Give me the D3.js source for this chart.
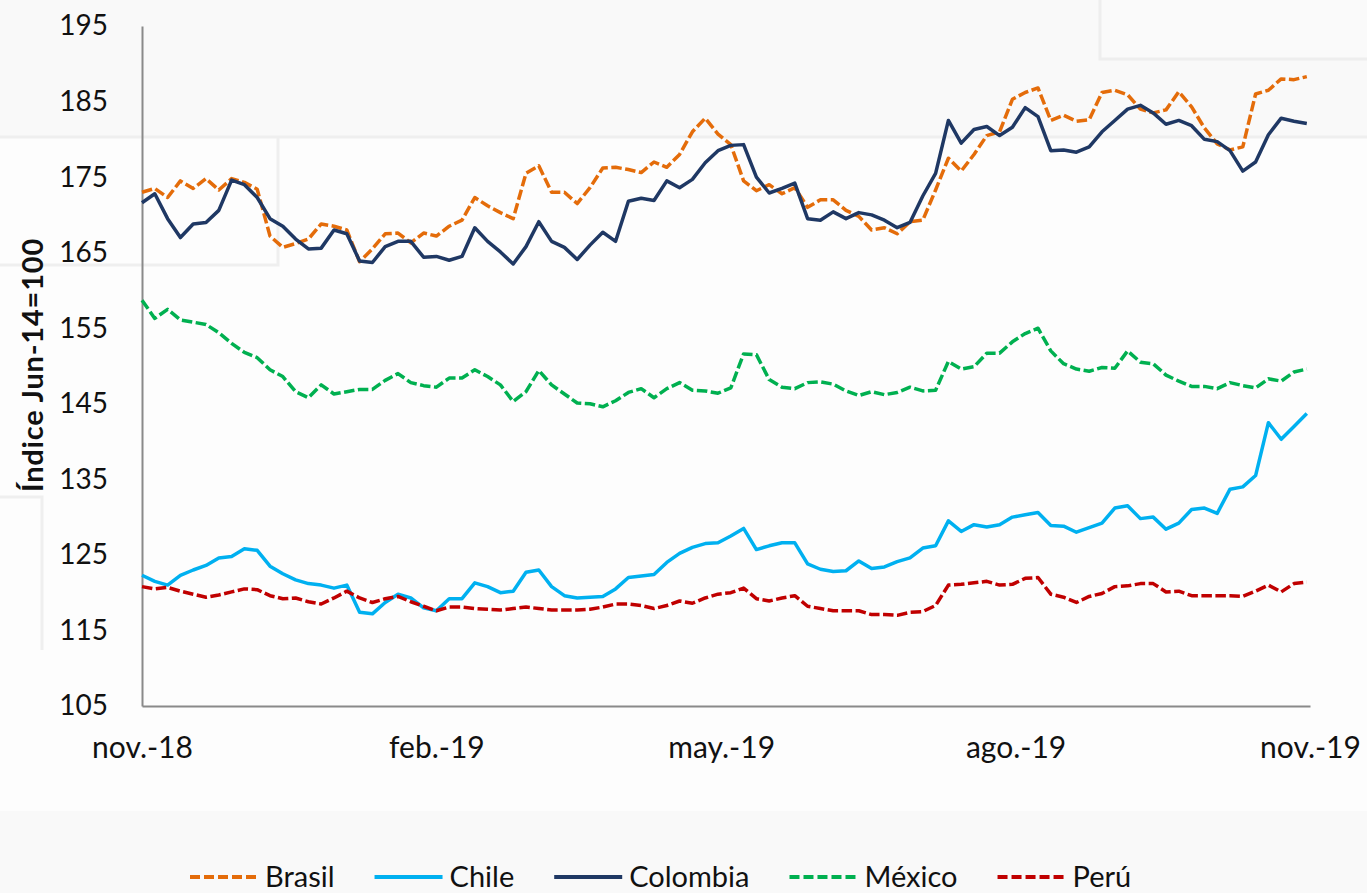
<!DOCTYPE html>
<html>
<head>
<meta charset="utf-8">
<script src="https://cdnjs.cloudflare.com/ajax/libs/d3/7.8.5/d3.min.js"></script>
<style>
  body { margin: 0; background: #fdfdfd; }
  text { font-family: Lato, "Open Sans", sans-serif; fill: #111; }
</style>
</head>
<body>
<script>
const w = 1367;
const h = 893;

// x categories: one reading every 4 days from nov.-18
const start = new Date(2018, 10, 1);
const end = new Date(2019, 10, 1);
const stepDays = 4;

const brasil = [173, 173.5, 172.3, 174.5, 173.5, 174.8, 173.3, 174.8, 174.3, 173.4,
  167.2, 165.7, 166.2, 166.8, 168.8, 168.5, 168, 163.8, 165.5, 167.5,
  167.6, 166.3, 167.6, 167.2, 168.5, 169.3, 172.3, 171.2, 170.3, 169.5,
  175.5, 176.5, 173, 173, 171.5, 173.6, 176.2, 176.3, 176, 175.6,
  177, 176.3, 178, 181, 182.8, 180.7, 179.3, 174.5, 173.2, 174,
  172.8, 173.6, 171, 172, 172, 170.6, 169.8, 168, 168.3, 167.5,
  169.1, 169.3, 173.3, 177.5, 175.8, 178, 180.5, 181, 185.3, 186.2,
  186.8, 182.5, 183.2, 182.4, 182.6, 186.2, 186.5, 185.9, 184, 183.5,
  183.9, 186.3, 184.3, 181.5, 179.4, 178.6, 179, 186, 186.5, 188,
  187.9, 188.3];

const chile = [122.3, 121.5, 121, 122.3, 123, 123.6, 124.6, 124.8, 125.8, 125.6,
  123.5, 122.5, 121.7, 121.2, 121, 120.6, 121, 117.4, 117.2, 118.7,
  119.8, 119.3, 118, 117.6, 119.2, 119.2, 121.3, 120.8, 120, 120.2,
  122.7, 123, 120.8, 119.6, 119.3, 119.4, 119.5, 120.5, 122, 122.2,
  122.4, 124, 125.2, 126, 126.5, 126.6, 127.5, 128.5, 125.7, 126.2,
  126.6, 126.6, 123.8, 123.1, 122.8, 122.9, 124.2, 123.2, 123.4, 124.1,
  124.6, 125.9, 126.2, 129.5, 128.1, 129, 128.7, 129, 130, 130.3,
  130.6, 128.9, 128.8, 128, 128.6, 129.2, 131.2, 131.5, 129.8, 130,
  128.4, 129.2, 131, 131.2, 130.5, 133.7, 134, 135.5, 142.5, 140.3,
  142, 143.7];

const colombia = [171.6, 172.8, 169.5, 167, 168.8, 169, 170.6, 174.6, 174, 172.3,
  169.5, 168.5, 166.8, 165.5, 165.6, 168, 167.5, 163.9, 163.7, 165.8,
  166.5, 166.5, 164.4, 164.5, 164, 164.5, 168.3, 166.5, 165.1, 163.5,
  165.8, 169.1, 166.5, 165.7, 164.1, 166, 167.7, 166.5, 171.8, 172.2,
  171.9, 174.5, 173.6, 174.7, 176.9, 178.5, 179.2, 179.3, 175, 172.9,
  173.5, 174.2, 169.5, 169.3, 170.4, 169.5, 170.3, 170, 169.3, 168.3,
  169, 172.5, 175.5, 182.5, 179.5, 181.3, 181.7, 180.5, 181.6, 184.2,
  183, 178.5, 178.6, 178.3, 179, 181, 182.5, 184, 184.5, 183.5,
  182, 182.5, 181.8, 180, 179.7, 178.5, 175.8, 177, 180.6, 182.8,
  182.4, 182.1];

const mexico = [158.7, 156.3, 157.5, 156.1, 155.8, 155.5, 154.4, 153, 151.8, 151.1,
  149.5, 148.6, 146.6, 145.8, 147.5, 146.3, 146.6, 146.9, 146.9, 148.1,
  149, 147.8, 147.4, 147.2, 148.4, 148.4, 149.5, 148.6, 147.5, 145.3,
  146.6, 149.4, 147.5, 146.3, 145.1, 145, 144.6, 145.4, 146.5, 147,
  145.8, 147, 147.8, 146.8, 146.7, 146.4, 147.1, 151.6, 151.5, 148.2,
  147.2, 147, 147.8, 147.9, 147.6, 146.7, 146.1, 146.6, 146.2, 146.5,
  147.2, 146.7, 146.8, 150.6, 149.6, 149.9, 151.7, 151.7, 153.2, 154.3,
  155, 152, 150.3, 149.6, 149.3, 149.8, 149.7, 152, 150.5, 150.3,
  148.8, 148, 147.3, 147.3, 147, 147.8, 147.4, 147.1, 148.3, 148,
  149.2, 149.6];

const peru = [120.8, 120.5, 120.7, 120.2, 119.8, 119.4, 119.7, 120.1, 120.5, 120.4,
  119.6, 119.2, 119.3, 118.8, 118.5, 119.3, 120.2, 119.3, 118.7, 119.2,
  119.5, 118.8, 118.2, 117.6, 118.1, 118.1, 117.9, 117.8, 117.7, 117.9,
  118.1, 117.9, 117.7, 117.7, 117.7, 117.8, 118.1, 118.5, 118.5, 118.3,
  117.9, 118.3, 118.9, 118.6, 119.3, 119.8, 120, 120.6, 119.2, 118.9,
  119.3, 119.6, 118.2, 117.9, 117.6, 117.6, 117.6, 117.1, 117.1, 117,
  117.4, 117.5, 118.3, 121, 121.1, 121.3, 121.5, 121, 121.1, 121.9,
  122, 119.8, 119.4, 118.7, 119.5, 119.9, 120.8, 120.9, 121.2, 121.2,
  120.1, 120.2, 119.6, 119.6, 119.6, 119.6, 119.5, 120.2, 121, 120.1,
  121.2, 121.4];

const yTicks = [105, 115, 125, 135, 145, 155, 165, 175, 185, 195];
const xTicks = [new Date(2018, 10, 1), new Date(2019, 1, 1), new Date(2019, 4, 1), new Date(2019, 7, 1), new Date(2019, 10, 1)];
const xLabels = ['nov.-18', 'feb.-19', 'may.-19', 'ago.-19', 'nov.-19'];
const yTitle = 'Índice Jun-14=100';

const series = [
  { name: 'Brasil', values: brasil, color: '#e46c0a', dash: '10.5,3.5' },
  { name: 'Chile', values: chile, color: '#00b0f0', dash: null },
  { name: 'Colombia', values: colombia, color: '#1f3864', dash: null },
  { name: 'México', values: mexico, color: '#00b050', dash: '10.5,3.5' },
  { name: 'Perú', values: peru, color: '#c00000', dash: '10.5,3.5' }
];

const svg = d3.select('body').append('svg').attr('width', w).attr('height', h);

// faint background panels
const bg = svg.append('g');
bg.append('rect').attr('x', 0).attr('y', 0).attr('width', w).attr('height', 137).attr('fill', '#f9f9f9');
bg.append('rect').attr('x', 0).attr('y', 811).attr('width', w).attr('height', h - 811).attr('fill', '#f9f9f9');
bg.append('rect').attr('x', 1100).attr('y', -5).attr('width', 280).attr('height', 64)
  .attr('fill', '#fafafa').attr('stroke', '#eeeeee').attr('stroke-width', 3);
bg.append('path').attr('d', 'M0,137H1367M278,137V265H0M0,497H42V650')
  .attr('fill', 'none').attr('stroke', '#efefef').attr('stroke-width', 3);

// scales and axes
const xScale = d3.scaleTime().domain([start, end]).range([142, 1310]);
const yScale = d3.scaleLinear().domain([105, 195]).range([706, 26]);

const yAxis = d3.axisLeft(yScale).tickValues(yTicks).tickSize(0).tickPadding(34).tickFormat(d3.format('d'));
const xAxis = d3.axisBottom(xScale).tickValues(xTicks).tickSize(0).tickPadding(31)
  .tickFormat((d, i) => xLabels[i]);

const gy = svg.append('g').attr('transform', 'translate(142,0)').call(yAxis);
const gx = svg.append('g').attr('transform', 'translate(0,706)').call(xAxis);
[gx, gy].forEach(g => {
  g.select('.domain').attr('stroke', '#8a8a8a').attr('stroke-width', 2);
  g.selectAll('text').attr('font-size', 28).attr('fill', '#111')
    .style('font-family', 'Lato, "Open Sans", sans-serif');
});
gx.selectAll('text').attr('font-size', 30);

// y title
svg.append('text')
  .attr('transform', 'translate(43,365) rotate(-90)')
  .attr('text-anchor', 'middle')
  .attr('font-size', 29)
  .attr('font-weight', 'bold')
  .attr('letter-spacing', 0.8)
  .text(yTitle);

// lines
const line = d3.line()
  .x((d, i) => xScale(d3.timeDay.offset(start, i * stepDays)))
  .y(d => yScale(d));

svg.append('g').selectAll('path')
  .data(series)
  .enter()
  .append('path')
  .attr('d', d => line(d.values))
  .attr('fill', 'none')
  .attr('stroke', d => d.color)
  .attr('stroke-width', 3.5)
  .attr('stroke-linejoin', 'round')
  .attr('stroke-dasharray', d => d.dash);

// legend
const legend = svg.append('g');
let lx = 190;
series.forEach(s => {
  legend.append('line')
    .attr('x1', lx).attr('x2', lx + 68)
    .attr('y1', 877).attr('y2', 877)
    .attr('stroke', s.color)
    .attr('stroke-width', 4)
    .attr('stroke-dasharray', s.dash ? '10,4' : null);
  const t = legend.append('text')
    .attr('x', lx + 75).attr('y', 887)
    .attr('font-size', 29)
    .text(s.name);
  lx = lx + 75 + t.node().getComputedTextLength() + 40;
});
</script>
</body>
</html>
